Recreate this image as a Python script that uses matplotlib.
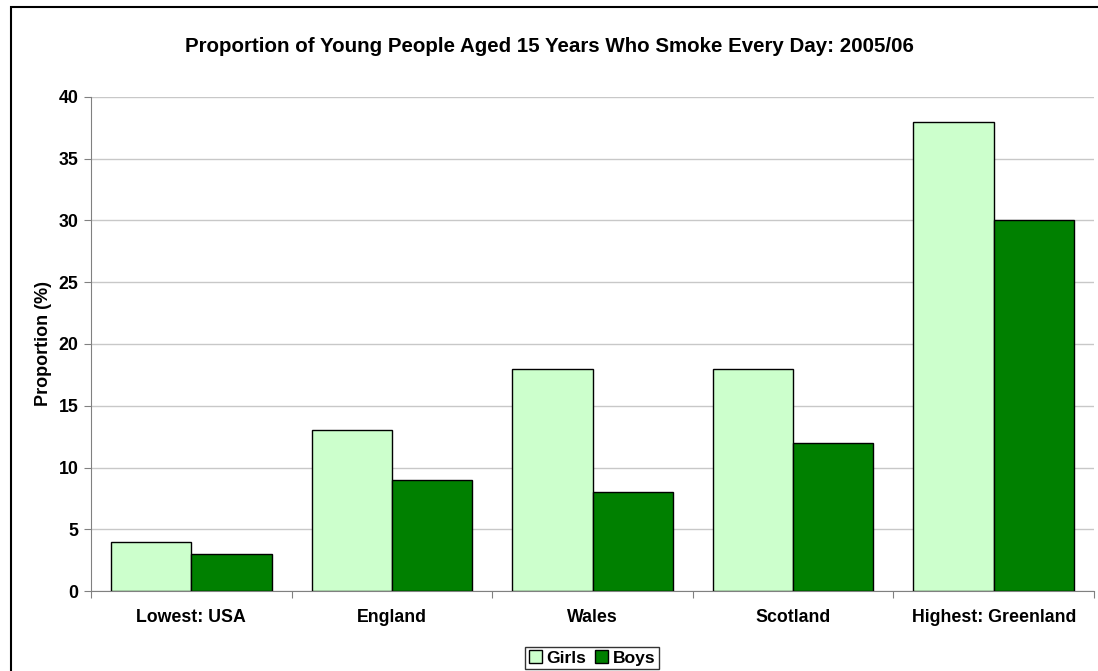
import numpy as np
import matplotlib
matplotlib.use("Agg")
import matplotlib.pyplot as plt
from matplotlib.patches import Rectangle

plt.rcParams["font.family"] = ["Liberation Sans", "DejaVu Sans"]
plt.rcParams["font.weight"] = "bold"

categories = ["Lowest: USA", "England", "Wales", "Scotland", "Highest: Greenland"]
girls = [4, 13, 18, 18, 38]
boys = [3, 9, 8, 12, 30]
series_names = ["Girls", "Boys"]
series_colors = ["#ccffcc", "#008000"]

fig = plt.figure(figsize=(10.98, 6.71), dpi=100)
ax = fig.add_axes([91 / 1098, 1 - 591 / 671, (1094 - 91) / 1098, (591 - 97) / 671])

x = np.arange(len(categories))
w = 0.4
ax.bar(x - w / 2, girls, w, color=series_colors[0], edgecolor="black", linewidth=1, label=series_names[0], zorder=3)
ax.bar(x + w / 2, boys, w, color=series_colors[1], edgecolor="black", linewidth=1, label=series_names[1], zorder=3)

ax.set_xlim(-0.5, len(categories) - 0.5)
ax.set_ylim(0, 40)
ax.set_yticks(range(0, 41, 5))
ax.yaxis.grid(True, color="#c8c8c8", linewidth=1)
ax.set_axisbelow(True)

# category labels between boundary ticks
ax.set_xticks(np.arange(-0.5, len(categories)), minor=False)
ax.set_xticklabels([])
ax.set_xticks(x, minor=True)
ax.set_xticklabels(categories, minor=True, fontsize=12.8, fontweight="bold")
ax.tick_params(axis="x", which="minor", length=0, pad=13)
ax.tick_params(axis="x", which="major", length=5, color="#808080", direction="out")
ax.tick_params(axis="y", length=5, color="#808080", labelsize=12.8, pad=4)
for lab in ax.get_yticklabels():
    lab.set_fontweight("bold")

for side in ["top", "right"]:
    ax.spines[side].set_visible(False)
for side in ["left", "bottom"]:
    ax.spines[side].set_color("#808080")

ax.set_ylabel("Proportion (%)", fontsize=13, fontweight="bold", labelpad=5)

fig.text(0.5, 1 - 46 / 671, "Proportion of Young People Aged 15 Years Who Smoke Every Day: 2005/06",
         ha="center", va="center", fontsize=14.8, fontweight="bold")

leg = fig.legend(loc="center", bbox_to_anchor=(592 / 1098, 1 - 658 / 671), ncol=2,
                 frameon=True, fancybox=False, edgecolor="black", fontsize=12.6,
                 handlelength=0.75, handleheight=0.75, handletextpad=0.25, columnspacing=0.5,
                 borderpad=0.2, borderaxespad=0)
leg.get_frame().set_linewidth(1)
for t in leg.get_texts():
    t.set_fontweight("bold")

# outer chart border
fig.patches.append(Rectangle((11 / 1098, -0.1), 1.2, 1 - 6.5 / 671 + 0.1,
                             transform=fig.transFigure, fill=False,
                             edgecolor="black", linewidth=1.5))

fig.savefig("out.png", dpi=100)
